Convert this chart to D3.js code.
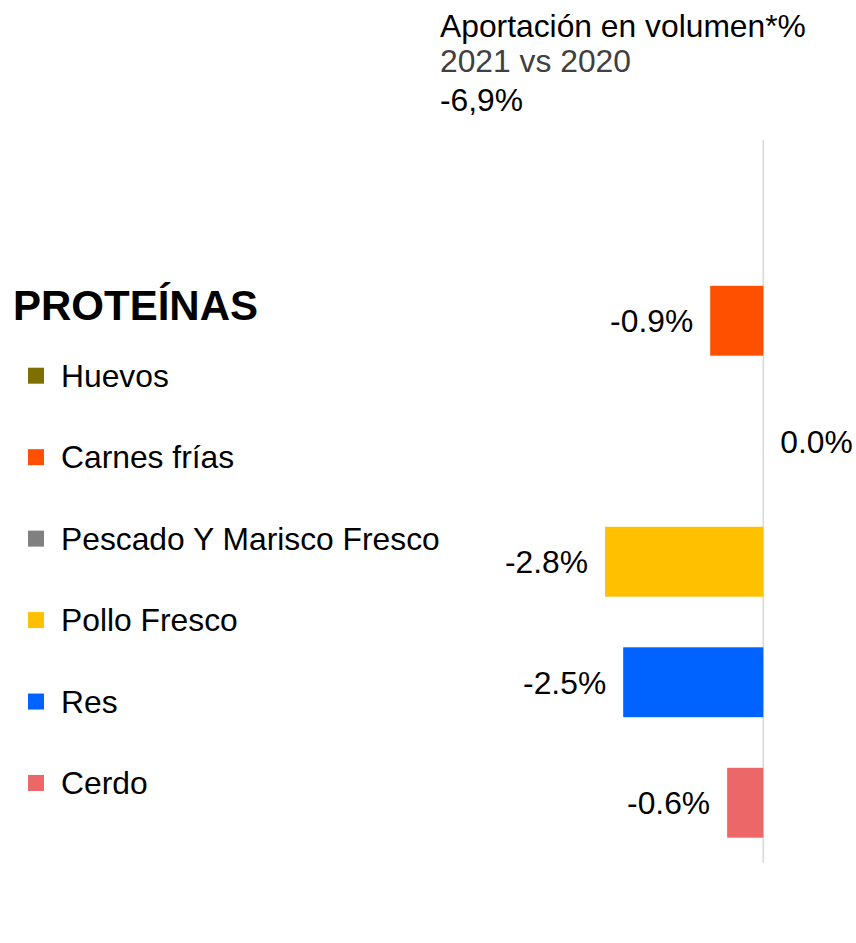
<!DOCTYPE html>
<html>
<head>
<meta charset="utf-8">
<script src="https://cdn.jsdelivr.net/npm/d3@7"></script>
<style>
  html, body { margin: 0; padding: 0; background: #fff; }
  svg { display: block; font-family: "Liberation Sans", Arial, sans-serif; }
</style>
</head>
<body>
<script>
// ---- Data ----
const categories = ["Huevos", "Carnes frías", "Pescado Y Marisco Fresco", "Pollo Fresco", "Res", "Cerdo"];
const values = [null, -0.94, 0.0, -2.8, -2.48, -0.64];
const colors = ["#7f6f00", "#ff5000", "#808080", "#ffc000", "#0062ff", "#ec6767"];
const headerLines = ["Aportación en volumen*%", "2021 vs 2020", "-6,9%"];
const sectionTitle = "PROTEÍNAS";

const W = 856, H = 943;
const FS = 31.8;
const svg = d3.select("body").append("svg").attr("width", W).attr("height", H);

// ---- Scales ----
const x = d3.scaleLinear().domain([-3, 0]).range([763.3 - 3 * 56.5, 763.3]);
const y = d3.scaleBand().domain(categories).range([140, 863]).paddingInner(0.42).paddingOuter(0.21);

// ---- Header ----
const headerColors = ["#000", "#404040", "#000"];
const headerY = [37, 72, 111];
svg.selectAll("text.header").data(headerLines).join("text")
  .attr("class", "header")
  .attr("x", 440).attr("y", (d, i) => headerY[i])
  .attr("font-size", FS)
  .attr("fill", (d, i) => headerColors[i])
  .text(d => d);

// ---- Zero line ----
svg.append("line")
  .attr("x1", x(0)).attr("x2", x(0))
  .attr("y1", 140).attr("y2", 863)
  .attr("stroke", "#d9d9d9").attr("stroke-width", 1.6);

// ---- Bars ----
const rows = categories.map((c, i) => ({ c, v: values[i], color: colors[i] }));
const withVals = rows.filter(d => d.v !== null);

svg.selectAll("rect.bar").data(withVals).join("rect")
  .attr("class", "bar")
  .attr("x", d => x(Math.min(0, d.v)))
  .attr("width", d => Math.abs(x(d.v) - x(0)))
  .attr("y", d => y(d.c))
  .attr("height", y.bandwidth())
  .attr("fill", d => d.color);

svg.selectAll("text.val").data(withVals).join("text")
  .attr("class", "val")
  .attr("x", d => d.v < 0 ? x(d.v) - 17 : x(0) + 17)
  .attr("y", d => y(d.c) + y.bandwidth() / 2 + 11.5)
  .attr("text-anchor", d => d.v < 0 ? "end" : "start")
  .attr("font-size", FS)
  .attr("fill", "#000")
  .text(d => d.v.toFixed(1) + "%");

// ---- Section title ----
svg.append("text")
  .attr("x", 13).attr("y", 320)
  .attr("font-size", 42).attr("font-weight", "bold")
  .attr("fill", "#000")
  .text(sectionTitle);

// ---- Legend ----
const ly = d3.scalePoint().domain(categories).range([367.7, 775]);
const leg = svg.selectAll("g.leg").data(rows).join("g")
  .attr("class", "leg")
  .attr("transform", d => `translate(28,${ly(d.c)})`);
leg.append("rect").attr("width", 16).attr("height", 16).attr("fill", d => d.color);
leg.append("text").attr("x", 33).attr("y", 19)
  .attr("font-size", FS).attr("fill", "#000")
  .text(d => d.c);
</script>
</body>
</html>
